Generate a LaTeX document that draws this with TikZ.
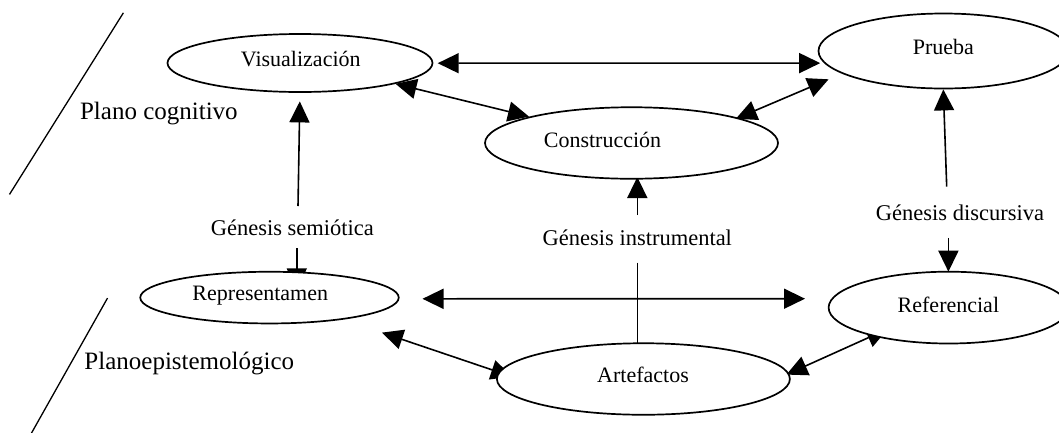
\documentclass[tikz,border=0pt]{standalone}
\usepackage{fontspec}
\setmainfont{Liberation Serif}
\usetikzlibrary{arrows.meta,shapes.geometric}
\pgfdeclarelayer{bg}
\pgfsetlayers{bg,main}
\begin{document}
\begin{tikzpicture}[x=1pt,y=-1pt,
  oval/.style={draw, ellipse, fill=white, line width=1.7pt, inner sep=0pt},
  txt/.style={inner sep=0pt, font=\fontsize{22}{24}\selectfont},
  lbl/.style={inner sep=0pt, font=\fontsize{22.5}{24}\selectfont},
  plano/.style={inner sep=0pt, font=\fontsize{25}{28}\selectfont},
  conn/.style={line width=1.6pt},
  dbl/.style={conn, {Triangle[length=21pt,width=20pt]}-{Triangle[length=21pt,width=20pt]}},
  one/.style={conn, -{Triangle[length=21pt,width=20pt]}},
  slash/.style={line width=1.3pt}
]
\useasboundingbox (0,0) rectangle (1059,432);

% ellipses
\node[oval, minimum width=265, minimum height=58] (vis) at (300,63) {};
\node[oval, minimum width=250, minimum height=75] (prueba) at (943.5,51) {};
\node[oval, minimum width=293, minimum height=71.5] (cons) at (631.5,143) {};
\node[oval, minimum width=258.5, minimum height=51.7] (rep) at (269.5,297.6) {};
\node[oval, minimum width=240, minimum height=71.8] (ref) at (948.6,307.6) {};
\node[oval, minimum width=293, minimum height=71.5] (art) at (643.4,379) {};

% texts in ellipses
\node[txt] (vist) at (300.8,59.2) {Visualización};
\node[txt] (pruebat) at (943.3,47.2) {Prueba};
\node[txt] (const) at (602.5,140) {Construcción};
\node[txt] (rept) at (260.3,296.1) {Representamen};
\node[txt] (reft) at (948.4,304.4) {Referencial};
\node[txt] (artt) at (643,374.6) {Artefactos};

% plane labels
\node[plano] (pcog) at (158.9,113.2) {Plano cognitivo};
\node[plano] (pepi) at (189.3,363.7) {Planoepistemológico};

% genesis labels
\node[lbl] (gsem) at (292.4,227.8) {Génesis semiótica};
\node[lbl] (gins) at (637.3,237.9) {Génesis instrumental};
\node[lbl] (gdis) at (960,212.6) {Génesis discursiva};

% slashes
\coordinate (s1a) at (123.4,12.8);
\coordinate (s1b) at (9.5,194.4);
\coordinate (s2a) at (107.5,298.1);
\coordinate (s2b) at (30.4,435);
\draw[slash] (s1a) -- (s1b);
\draw[slash] (s2a) -- (s2b);

% connector end points
\coordinate (vp1) at (437.7,63.2);  \coordinate (vp2) at (820.2,63.1);
\coordinate (vc1) at (395.5,83.8);  \coordinate (vc2) at (529,116.6);
\coordinate (cp1) at (735.8,118.8); \coordinate (cp2) at (828.6,79.3);
\coordinate (sv1) at (298,206);     \coordinate (sv2) at (299.8,101.4);
\coordinate (sr1) at (296.8,248);   \coordinate (sr2) at (296.8,289.4);
\coordinate (ic1) at (637.3,215);   \coordinate (ic2) at (637.3,177);
\coordinate (ia1) at (637.3,262.6); \coordinate (ia2) at (637.3,343.5);
\coordinate (dp1) at (946.7,186.5); \coordinate (dp2) at (943.3,89.4);
\coordinate (dr1) at (948.4,237.9); \coordinate (dr2) at (948.4,271.7);
\coordinate (rr1) at (422.5,298.8); \coordinate (rr2) at (805,298.7);
\coordinate (ra1) at (382,332.6);   \coordinate (ra2) at (512,376.6);
\coordinate (ar1) at (786.4,374.6); \coordinate (ar2) at (887.6,329);

\begin{pgfonlayer}{bg}
\draw[dbl] (vp1) -- (vp2);
\draw[dbl] (vc1) -- (vc2);
\draw[dbl] (cp1) -- (cp2);
\draw[one] (sv1) -- (sv2);
\draw[one] (sr1) -- (sr2);
\draw[one] (ic1) -- (ic2);
\draw[conn] (ia1) -- (ia2);
\draw[one] (dp1) -- (dp2);
\draw[one] (dr1) -- (dr2);
\draw[dbl] (rr1) -- (rr2);
\draw[dbl] (ra1) -- (ra2);
\draw[dbl] (ar1) -- (ar2);
\end{pgfonlayer}
\end{tikzpicture}
\end{document}
